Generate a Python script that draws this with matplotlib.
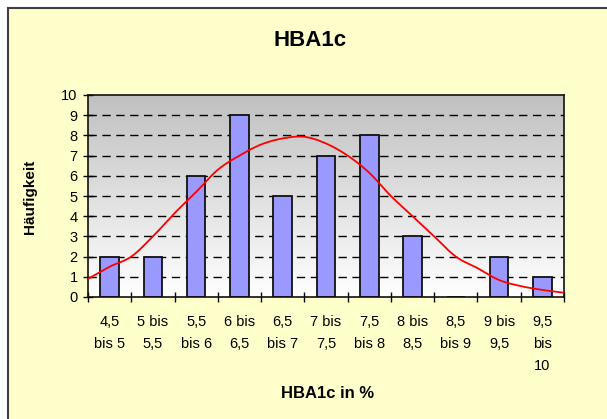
import numpy as np
import matplotlib
matplotlib.use("Agg")
import matplotlib.pyplot as plt
from matplotlib.patches import Rectangle

plt.rcParams['font.family'] = ['Liberation Sans', 'DejaVu Sans']

categories = ["4,5\nbis 5", "5 bis\n5,5", "5,5\nbis 6", "6 bis\n6,5", "6,5\nbis 7",
              "7 bis\n7,5", "7,5\nbis 8", "8 bis\n8,5", "8,5\nbis 9", "9 bis\n9,5",
              "9,5\nbis\n10"]
counts = [2, 2, 6, 9, 5, 7, 8, 3, 0, 2, 1]
curve_pos = [-0.5, 0, 0.5, 1, 1.5, 2, 2.5, 3, 3.5, 4, 4.5, 5, 5.5, 6, 6.5, 7,
             7.5, 8, 8.5, 9, 9.5, 10, 10.5]
curve_vals = [0.9, 1.5, 2.0, 3.0, 4.15, 5.2, 6.3, 7.0, 7.55, 7.85, 7.93, 7.6,
              7.0, 6.15, 5.0, 4.0, 3.0, 2.0, 1.43, 0.84, 0.54, 0.35, 0.21]
yticks = list(range(0, 11))


def catmull_rom(xs, ys, n=12):
    xs = np.asarray(xs, float)
    ys = np.asarray(ys, float)
    px = np.concatenate([[2 * xs[0] - xs[1]], xs, [2 * xs[-1] - xs[-2]]])
    py = np.concatenate([[2 * ys[0] - ys[1]], ys, [2 * ys[-1] - ys[-2]]])
    ox, oy = [], []
    t = np.linspace(0, 1, n, endpoint=False)
    for i in range(1, len(px) - 2):
        for arr, out in ((px, ox), (py, oy)):
            p0, p1, p2, p3 = arr[i - 1], arr[i], arr[i + 1], arr[i + 2]
            out.extend(0.5 * ((2 * p1) + (-p0 + p2) * t + (2 * p0 - 5 * p1 + 4 * p2 - p3) * t ** 2
                              + (-p0 + 3 * p1 - 3 * p2 + p3) * t ** 3))
    ox.append(xs[-1])
    oy.append(ys[-1])
    return np.array(ox), np.array(oy)


W, H = 607, 419
fig = plt.figure(figsize=(W / 100, H / 100), dpi=100)
fig.patch.set_facecolor('white')
# chart area
bg = Rectangle((8 / W, -0.1), 1.2, 1 - 8 / H + 0.1, transform=fig.transFigure,
               facecolor='#FFFFCC', edgecolor='#404040', linewidth=1.5, zorder=-10)
fig.add_artist(bg)

ax = fig.add_axes([88 / W, 1 - 297 / H, (564 - 88) / W, (297 - 95) / H])
ax.set_zorder(1)
ax.set_xlim(-0.5, len(categories) - 0.5)
ax.set_ylim(0, 10)

# gradient background
grad = np.linspace(0, 1, 256).reshape(-1, 1)
ax.imshow(grad, extent=[0, 1, 0, 1], transform=ax.transAxes, aspect='auto',
          cmap=matplotlib.colors.LinearSegmentedColormap.from_list('g', ['#FFFFFF', '#C0C0C0']),
          origin='lower', zorder=0)

for y in yticks[1:-1]:
    ax.axhline(y, color='black', linestyle=(0, (6, 4)), linewidth=1, zorder=1)

x = np.arange(len(categories))
ax.bar(x, counts, width=0.43, color='#9999FF', edgecolor='#111111', linewidth=1.3, zorder=2)
cx, cy = catmull_rom(curve_pos, curve_vals)
ax.plot(cx, cy, color='#FF0000', linewidth=1.3, zorder=3)

ax.set_yticks(yticks)
ax.set_xticks(np.arange(-0.5, len(categories), 1.0))
ax.set_xticklabels([])
ax.set_xticks(x, minor=True)
ax.set_xticklabels(categories, minor=True, fontsize=10.5, linespacing=1.72, va='top')
ax.tick_params(axis='x', which='minor', length=0, pad=13)
ax.tick_params(axis='x', which='major', direction='inout', length=7, width=1)
ax.tick_params(axis='y', direction='inout', length=7, width=1, labelsize=10.5, pad=4)
for s in ax.spines.values():
    s.set_color('#111111')
    s.set_linewidth(1.2)

fig.text(310 / W, 1 - 46 / H, "HBA1c", fontsize=16, fontweight='bold', ha='center', va='baseline')
fig.text(328 / W, 1 - 398 / H, "HBA1c in %", fontsize=12, fontweight='bold', ha='center', va='baseline')
fig.text(30 / W, 1 - 197 / H, "Häufigkeit", fontsize=11, fontweight='bold', ha='center', va='center',
         rotation=90)

fig.savefig("out.png", dpi=100)
